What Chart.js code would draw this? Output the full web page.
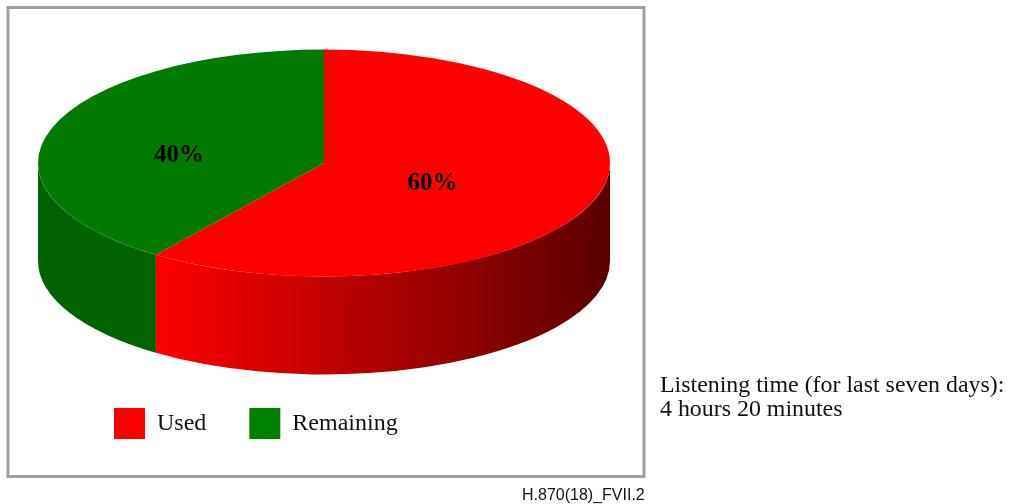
<!DOCTYPE html>
<html><head><meta charset="utf-8">
<style>
html,body{margin:0;padding:0;background:#fff;width:1010px;height:504px;overflow:hidden}
#wrap{position:relative;width:1010px;height:504px}
canvas{position:absolute;left:0;top:0}
.t{position:absolute;white-space:nowrap;color:#111}
#note{left:660px;top:372px;font:23.9px/24px "Liberation Serif",serif}
#ref{left:522px;top:486px;font:16px/18px "Liberation Sans",sans-serif}
</style></head><body>
<div id="wrap"><canvas id="c" width="1010" height="504"></canvas>
<div class="t" id="note">Listening time (for last seven days):<br>4 hours 20 minutes</div>
<div class="t" id="ref">H.870(18)_FVII.2</div></div>
<script src="https://cdn.jsdelivr.net/npm/chart.js@4"></script>
<script>
const categories = ["Used", "Remaining"];
const values = [60, 40];
const topColors = ["#ff0000", "#007a00"];
const legendColors = ["#ff0000", "#008000"];
const RX = 286, RY = 113.5, DEPTH = 98;
const SQUASH = RY / RX;

const frame = { id:'frame', beforeDraw(chart){
  const c = chart.ctx; c.save(); c.strokeStyle='#a0a0a0'; c.lineWidth=3;
  c.strokeRect(8,7.5,636,469); c.restore();
}};
const tilt = {
  id:'tilt',
  beforeDatasetsDraw(chart){
    const c = chart.ctx, arcs = chart.getDatasetMeta(0).data;
    const cx = arcs[0].x, cy = arcs[0].y;
    arcs.forEach((a,i)=>{
      const from = Math.max(a.startAngle,0), to = Math.min(a.endAngle,Math.PI);
      if (to <= from) return;
      c.save();
      c.beginPath();
      c.ellipse(cx,cy,RX,RY,0,from,to,false);
      c.ellipse(cx,cy+DEPTH,RX,RY,0,to,from,true);
      c.closePath();
      if (i===0){
        const x0 = cx+RX*Math.cos(to), x1 = cx+RX*Math.cos(from);
        const g = c.createLinearGradient(x0,0,x1,0);
        g.addColorStop(0,'#ff0000'); g.addColorStop(1,'#5a0000');
        c.fillStyle = g;
      } else c.fillStyle = '#006200';
      c.fill(); c.restore();
    });
    c.save();
    c.translate(cx,cy); c.scale(1,SQUASH); c.translate(-cx,-cy);
  },
  afterDatasetsDraw(chart){
    chart.ctx.restore();
    const c = chart.ctx, a = chart.getDatasetMeta(0).data[0];
    const offs = [[108.5,21],[-145,-7]];
    c.save(); c.fillStyle='#000'; c.font='bold 25px "Liberation Serif",serif';
    c.textAlign='center'; c.textBaseline='middle';
    values.forEach((v,i)=>c.fillText(v+'%',a.x+offs[i][0],a.y+offs[i][1]));
    c.restore();
  }
};
new Chart(document.getElementById('c'),{
  type:'pie',
  data:{labels:categories,datasets:[{data:values,backgroundColor:topColors,borderWidth:0,radius:RX,clip:false}]},
  options:{
    responsive:false,animation:false,
    layout:{padding:{left:71,right:433,top:0,bottom:55}},
    plugins:{tooltip:{enabled:false},
      legend:{position:'bottom',align:'start',
        title:{display:true,text:' ',font:{size:10},padding:{top:27,bottom:0}},
        labels:{boxWidth:31,boxHeight:31,padding:43,color:'#111',
          font:{family:'"Liberation Serif",serif',size:24},
          generateLabels:()=>categories.map((t,i)=>({text:t,fillStyle:legendColors[i],strokeStyle:legendColors[i],lineWidth:0,index:i,fontColor:'#111'}))}}}
  },
  plugins:[frame,tilt]
});
</script></body></html>
